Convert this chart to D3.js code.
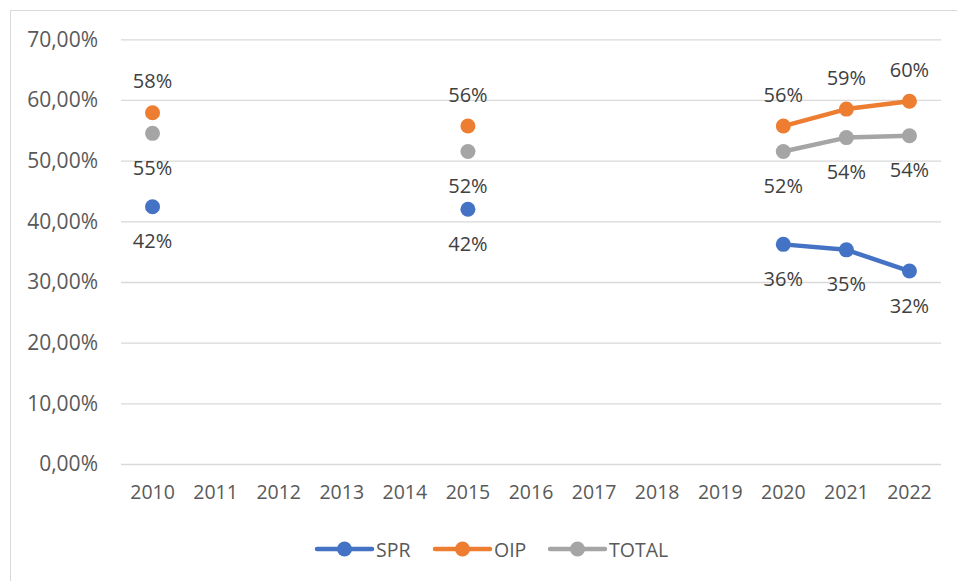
<!DOCTYPE html>
<html><head><meta charset="utf-8">
<script src="https://cdn.jsdelivr.net/npm/d3@7"></script>
<style>body{margin:0;background:#fff}svg{display:block}text{font-family:"Open Sans",sans-serif;fill:#595959}</style>
</head><body>
<svg id="c" width="957" height="581"></svg>
<script>
const years = ["2010","2011","2012","2013","2014","2015","2016","2017","2018","2019","2020","2021","2022"];
const SPR   = [0.424,null,null,null,null,0.420,null,null,null,null,0.362,0.353,0.318];
const OIP   = [0.579,null,null,null,null,0.557,null,null,null,null,0.557,0.585,0.598];
const TOTAL = [0.545,null,null,null,null,0.515,null,null,null,null,0.515,0.538,0.541];
const yTicks = [0,0.1,0.2,0.3,0.4,0.5,0.6,0.7];
const seriesNames = ["SPR","OIP","TOTAL"];
const colors = ["#4472C4","#ED7D31","#A5A5A5"];
const labelPos = ["below","above","below"];

const svg = d3.select("#c");
svg.append("rect").attr("x",10.5).attr("y",10.5).attr("width",960).attr("height",580)
  .attr("fill","none").attr("stroke","#D9D9D9");

const x = d3.scaleBand().domain(years).range([121,941]);
const xc = d => x(d) + x.bandwidth()/2;
const y = d3.scaleLinear().domain([0,0.7]).range([464,39.3]);
const loc = d3.formatLocale({decimal:",",thousands:".",grouping:[3],currency:["","€"]});
const tickFmt = loc.format(".2%");
const lblFmt = d3.format(".0%");

const gy = d3.axisLeft(y).tickValues(yTicks).tickSize(-(941-121)).tickFormat(tickFmt).tickPadding(23);
const gAxis = svg.append("g").attr("transform","translate(121,0)").call(gy);
gAxis.select(".domain").remove();
gAxis.selectAll(".tick line").attr("stroke","#D9D9D9").attr("stroke-width",1.3);
gAxis.selectAll(".tick text").attr("font-size",21).attr("fill","#595959").style("font-family","Open Sans");

const xAxis = d3.axisBottom(x).tickSize(0).tickPadding(21);
const xg = svg.append("g").attr("transform","translate(0,464)").call(xAxis);
xg.select(".domain").remove();
xg.selectAll(".tick text").attr("font-size",19.5).attr("fill","#595959").style("font-family","Open Sans");

const data = [SPR,OIP,TOTAL];
const line = d3.line().defined(d=>d.v!=null).x(d=>xc(d.year)).y(d=>y(d.v));
data.forEach((arr,i)=>{
  const pts = arr.map((v,j)=>({year:years[j],v}));
  svg.append("path").datum(pts).attr("d",line).attr("fill","none")
    .attr("stroke",colors[i]).attr("stroke-width",4.5).attr("stroke-linejoin","round").attr("stroke-linecap","round");
  const def = pts.filter(d=>d.v!=null);
  svg.selectAll(null).data(def).enter().append("circle")
    .attr("cx",d=>xc(d.year)).attr("cy",d=>y(d.v)).attr("r",7.5).attr("fill",colors[i]);
  svg.selectAll(null).data(def).enter().append("text")
    .attr("x",d=>xc(d.year)).attr("y",d=>y(d.v)+(labelPos[i]==="above"?-32:34))
    .attr("text-anchor","middle").attr("dominant-baseline","central").attr("font-size",20)
    .style("fill","#404040")
    .text(d=>lblFmt(d.v));
});

const legX = [317,435,550];
seriesNames.forEach((n,i)=>{
  const g = svg.append("g").attr("transform",`translate(${legX[i]},549)`);
  g.append("line").attr("x1",0).attr("x2",55).attr("stroke",colors[i]).attr("stroke-width",4.5).attr("stroke-linecap","round");
  g.append("circle").attr("cx",27.5).attr("r",7.5).attr("fill",colors[i]);
  g.append("text").attr("x",59).attr("dominant-baseline","central").attr("font-size",19.5).text(n);
});
</script>
</body></html>
